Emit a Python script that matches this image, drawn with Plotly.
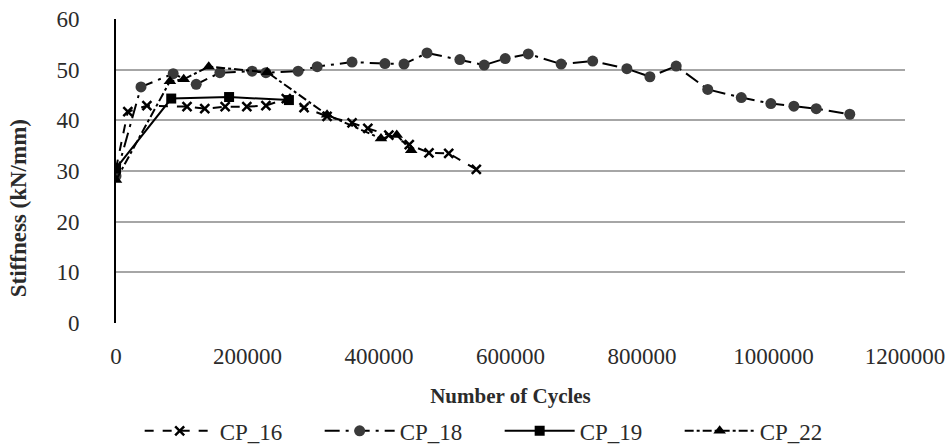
import plotly.graph_objects as go

# CP_16
cp16_x = [0, 18000, 47000, 108000, 135000, 166000, 199000, 228000, 259000, 286000,
          321000, 359000, 383000, 415000, 446000, 476000, 506000, 548000]
cp16_y = [30.5, 41.7, 42.9, 42.7, 42.3, 42.7, 42.7, 42.9, 44.3, 42.5,
          40.8, 39.5, 38.4, 37.1, 35.2, 33.6, 33.5, 30.3]
# CP_18
cp18_x = [0, 38000, 87000, 122000, 158000, 207000, 228000, 277000, 306000, 359000,
          409000, 438000, 473000, 523000, 560000, 592000, 627000, 677000, 725000,
          777000, 812000, 852000, 900000, 951000, 996000, 1031000, 1065000, 1116000]
cp18_y = [29.0, 46.6, 49.2, 47.1, 49.4, 49.7, 49.4, 49.7, 50.6, 51.5,
          51.2, 51.1, 53.3, 52.0, 50.9, 52.2, 53.1, 51.1, 51.7,
          50.2, 48.6, 50.7, 46.1, 44.5, 43.3, 42.8, 42.3, 41.2]
# CP_19
cp19_x = [0, 84000, 172000, 263000]
cp19_y = [30.5, 44.3, 44.6, 44.0]
# CP_22
cp22_x = [0, 82000, 103000, 141000, 230000, 321000, 403000, 427000, 449000]
cp22_y = [28.2, 47.7, 48.1, 50.6, 49.5, 41.1, 36.4, 37.1, 34.1]

x_ticks = [0, 200000, 400000, 600000, 800000, 1000000, 1200000]
x_ticktext = ["0", "200000", "400000", "600000", "800000", "1000000", "1200000"]

series = [
    ("CP_16", cp16_x, cp16_y, "dash", "x-thin", 9, "black"),
    ("CP_18", cp18_x, cp18_y, "longdashdot", "circle", 11, "#3a3a3a"),
    ("CP_19", cp19_x, cp19_y, "solid", "square", 10, "black"),
    ("CP_22", cp22_x, cp22_y, "dashdot", "triangle-up", 11, "black"),
]

fig = go.Figure()
for name, xs, ys, dash, sym, size, mcol in series:
    fig.add_trace(go.Scatter(
        x=xs, y=ys, name=name, mode="lines+markers",
        line=dict(color="black", width=2, dash=dash),
        marker=dict(symbol=sym, size=size, color=mcol,
                    line=dict(color="black", width=2.5 if sym == "x-thin" else 0)),
    ))

fig.add_annotation(
    text="<b>Stiffness (kN/mm)</b>", textangle=-90,
    xref="paper", yref="paper", x=-0.124, y=0.378,
    xanchor="center", yanchor="middle", showarrow=False,
    font=dict(family="Liberation Serif", size=23, color="#2b2b2b"),
)

fig.update_layout(
    width=945, height=447,
    margin=dict(l=116, r=40, t=19, b=124, autoexpand=False),
    paper_bgcolor="white", plot_bgcolor="white",
    font=dict(family="Liberation Serif", size=23, color="#2b2b2b"),
    showlegend=True,
    legend=dict(orientation="h", x=0.03, xanchor="left", y=-0.355, yanchor="middle",
                font=dict(size=23), itemwidth=70, entrywidth=95, entrywidthmode="pixels",
                tracegroupgap=0),
    xaxis=dict(range=[0, 1200000], tickvals=x_ticks, ticktext=x_ticktext,
               showgrid=False, zeroline=False, showline=False,
               ticks="outside", ticklen=12, tickcolor="rgba(0,0,0,0)",
               ticklabeloverflow="allow",
               title=dict(text="<b>Number of Cycles</b>", font=dict(size=21), standoff=20)),
    yaxis=dict(range=[0, 60], dtick=10, showgrid=True, gridcolor="#a6a6a6", gridwidth=2,
               zeroline=False, showline=True, linecolor="black", linewidth=2,
               ticks="", ticklabelstandoff=30),
)
fig.write_html("out.html")
